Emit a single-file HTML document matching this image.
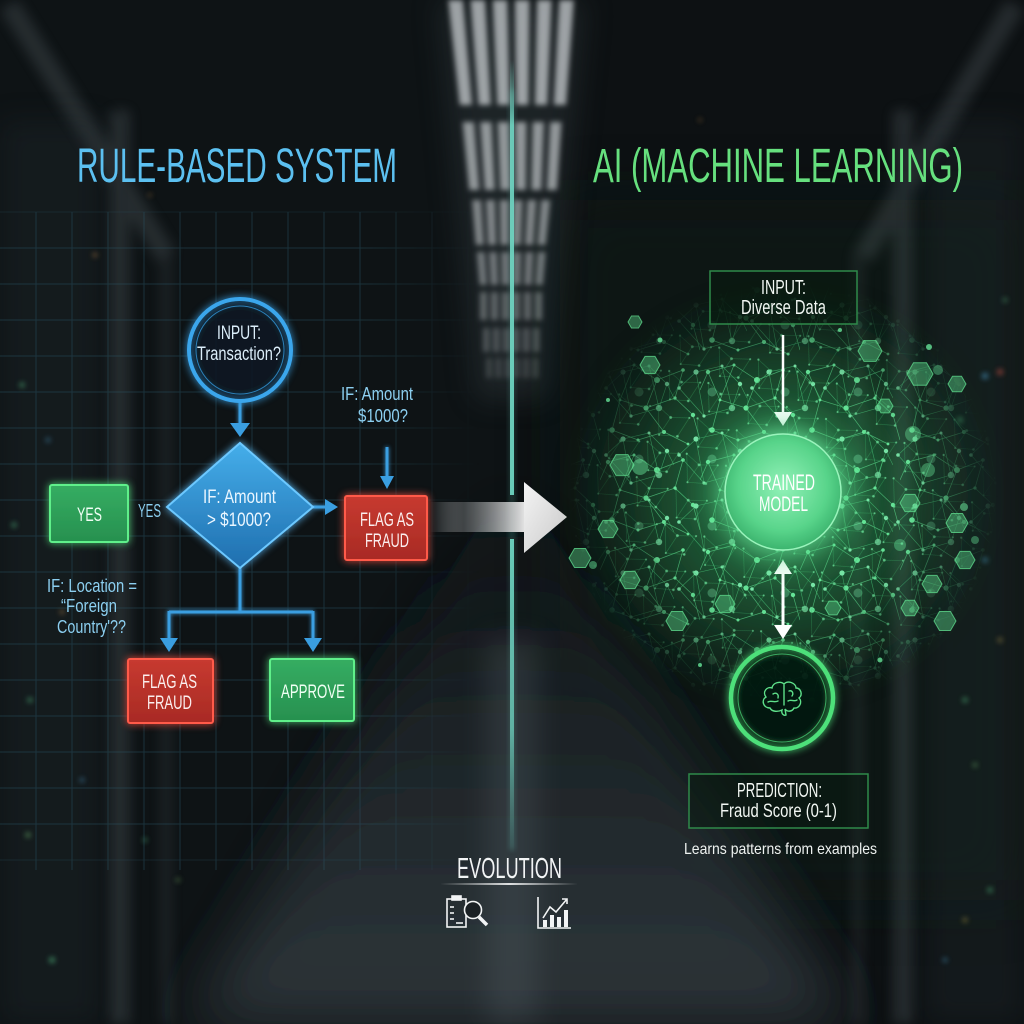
<!DOCTYPE html>
<html><head><meta charset="utf-8">
<style>
html,body{margin:0;padding:0;background:#0d1012;width:1024px;height:1024px;overflow:hidden}
svg{display:block}
text{font-family:"Liberation Sans Narrow","Liberation Sans",sans-serif;}
</style></head><body>
<svg width="1024" height="1024" viewBox="0 0 1024 1024" xmlns="http://www.w3.org/2000/svg">
<defs>
 <filter id="b1" x="-50%" y="-50%" width="200%" height="200%"><feGaussianBlur stdDeviation="1.2"/></filter>
 <filter id="b2" x="-50%" y="-50%" width="200%" height="200%"><feGaussianBlur stdDeviation="2.6"/></filter>
 <filter id="b6" x="-50%" y="-50%" width="200%" height="200%"><feGaussianBlur stdDeviation="6"/></filter>
 <filter id="b14" x="-50%" y="-50%" width="200%" height="200%"><feGaussianBlur stdDeviation="14"/></filter>
 <filter id="b30" x="-50%" y="-50%" width="200%" height="200%"><feGaussianBlur stdDeviation="30"/></filter>
 <filter id="glow" x="-40%" y="-40%" width="180%" height="180%"><feGaussianBlur in="SourceGraphic" stdDeviation="4" result="b"/><feMerge><feMergeNode in="b"/><feMergeNode in="SourceGraphic"/></feMerge></filter>
 <filter id="glowS" x="-40%" y="-40%" width="180%" height="180%"><feGaussianBlur in="SourceGraphic" stdDeviation="2" result="b"/><feMerge><feMergeNode in="b"/><feMergeNode in="SourceGraphic"/></feMerge></filter>
 <filter id="glowL" x="-60%" y="-60%" width="220%" height="220%"><feGaussianBlur in="SourceGraphic" stdDeviation="9" result="b"/><feMerge><feMergeNode in="b"/><feMergeNode in="SourceGraphic"/></feMerge></filter>

 <linearGradient id="floorG" x1="0" y1="0" x2="0" y2="1">
  <stop offset="0" stop-color="#13181b" stop-opacity="0"/><stop offset="0.45" stop-color="#1b2225"/><stop offset="1" stop-color="#2e363b"/>
 </linearGradient>
 <linearGradient id="diaG" x1="0" y1="0" x2="0" y2="1">
  <stop offset="0" stop-color="#45aeea"/><stop offset="1" stop-color="#1f6eae"/>
 </linearGradient>
 <linearGradient id="redG" x1="0" y1="0" x2="0" y2="1">
  <stop offset="0" stop-color="#c73a30"/><stop offset="1" stop-color="#a82a24"/>
 </linearGradient>
 <linearGradient id="grnG" x1="0" y1="0" x2="0" y2="1">
  <stop offset="0" stop-color="#35ad62"/><stop offset="1" stop-color="#27904f"/>
 </linearGradient>
 <linearGradient id="arrG" x1="430" y1="0" x2="526" y2="0" gradientUnits="userSpaceOnUse">
  <stop offset="0" stop-color="#ffffff" stop-opacity="0"/>
  <stop offset="0.35" stop-color="#6a6e70" stop-opacity="0.55"/>
  <stop offset="1" stop-color="#e8e8e8"/>
 </linearGradient>
 <linearGradient id="headG" x1="0" y1="0" x2="1" y2="1">
  <stop offset="0" stop-color="#f4f4f4"/><stop offset="1" stop-color="#c9c9c9"/>
 </linearGradient>
 <linearGradient id="tealTop" x1="0" y1="0" x2="0" y2="1">
  <stop offset="0" stop-color="#72dcc8" stop-opacity="0"/>
  <stop offset="0.15" stop-color="#72dcc8" stop-opacity="0.85"/>
  <stop offset="1" stop-color="#72dcc8" stop-opacity="0.9"/>
 </linearGradient>
 <linearGradient id="tealBot" x1="0" y1="0" x2="0" y2="1">
  <stop offset="0" stop-color="#72dcc8" stop-opacity="0.9"/>
  <stop offset="0.6" stop-color="#72dcc8" stop-opacity="0.7"/>
  <stop offset="1" stop-color="#72dcc8" stop-opacity="0"/>
 </linearGradient>
 <linearGradient id="evoLine" x1="0" y1="0" x2="1" y2="0">
  <stop offset="0" stop-color="#ffffff" stop-opacity="0"/>
  <stop offset="0.5" stop-color="#ffffff" stop-opacity="0.85"/>
  <stop offset="1" stop-color="#ffffff" stop-opacity="0"/>
 </linearGradient>
 <radialGradient id="cloudG" cx="783" cy="495" r="215" gradientUnits="userSpaceOnUse">
  <stop offset="0" stop-color="#48c878" stop-opacity="0.6"/>
  <stop offset="0.55" stop-color="#2e9a55" stop-opacity="0.38"/>
  <stop offset="1" stop-color="#1e6a3a" stop-opacity="0"/>
 </radialGradient>
 <radialGradient id="cloudM" cx="783" cy="495" r="215" gradientUnits="userSpaceOnUse">
  <stop offset="0" stop-color="#fff"/>
  <stop offset="0.6" stop-color="#fff" stop-opacity="0.9"/>
  <stop offset="1" stop-color="#fff" stop-opacity="0"/>
 </radialGradient>
 <mask id="cloudMask" maskUnits="userSpaceOnUse" x="0" y="0" width="1024" height="1024">
  <rect x="0" y="0" width="1024" height="1024" fill="url(#cloudM)"/>
 </mask>
 <radialGradient id="modelG" cx="0.5" cy="0.45" r="0.55">
  <stop offset="0" stop-color="#92f2b8"/><stop offset="0.7" stop-color="#58d48a"/><stop offset="1" stop-color="#3cb46e"/>
 </radialGradient>
 <linearGradient id="gridFadeX" x1="0" y1="0" x2="1" y2="0">
  <stop offset="0" stop-color="#fff"/><stop offset="0.75" stop-color="#fff"/><stop offset="1" stop-color="#fff" stop-opacity="0"/>
 </linearGradient>
 <mask id="gridMask" maskUnits="userSpaceOnUse" x="0" y="0" width="1024" height="1024">
  <rect x="0" y="200" width="480" height="690" fill="url(#gridFadeX)"/>
 </mask>

 <pattern id="netA" width="100" height="90" patternUnits="userSpaceOnUse">
  <g stroke="#5ad88a" stroke-width="0.7" fill="none" opacity="0.75">
   <polyline points="8,12 34,5 57,20 83,10"/>
   <polyline points="57,20 46,48 20,40 8,12"/>
   <polyline points="46,48 75,38 93,55"/>
   <polyline points="46,48 64,72 38,80 12,70 20,40"/>
   <line x1="64" y1="72" x2="88" y2="84"/>
   <line x1="75" y1="38" x2="83" y2="10"/>
   <line x1="93" y1="55" x2="100" y2="80"/>
   <line x1="0" y1="30" x2="8" y2="12"/>
   <line x1="34" y1="5" x2="20" y2="40"/>
  </g>
  <g fill="#6cf0a0">
   <circle cx="8" cy="12" r="2.2"/><circle cx="34" cy="5" r="1.5"/><circle cx="57" cy="20" r="3"/>
   <circle cx="83" cy="10" r="1.8"/><circle cx="20" cy="40" r="1.4"/><circle cx="46" cy="48" r="2.6"/>
   <circle cx="75" cy="38" r="1.6"/><circle cx="93" cy="55" r="2.2"/><circle cx="12" cy="70" r="2.8"/>
   <circle cx="38" cy="80" r="1.5"/><circle cx="64" cy="72" r="2"/><circle cx="88" cy="84" r="1.4"/>
  </g>
 </pattern>
 <pattern id="netB" width="73" height="67" patternUnits="userSpaceOnUse" patternTransform="translate(17,23)">
  <g stroke="#4ac87a" stroke-width="0.6" fill="none" opacity="0.7">
   <polyline points="5,30 22,14 48,8 66,26 58,50 30,58 5,30"/>
   <line x1="22" y1="14" x2="30" y2="58"/>
   <line x1="48" y1="8" x2="58" y2="50"/>
   <line x1="66" y1="26" x2="73" y2="40"/>
  </g>
  <g fill="#80f0b0">
   <circle cx="5" cy="30" r="1.8"/><circle cx="22" cy="14" r="2.6"/><circle cx="48" cy="8" r="1.5"/>
   <circle cx="66" cy="26" r="2.2"/><circle cx="58" cy="50" r="3.2" opacity="0.7"/><circle cx="30" cy="58" r="1.6"/>
   <circle cx="38" cy="34" r="4.5" opacity="0.35"/>
  </g>
 </pattern>
 <pattern id="netC" width="41" height="37" patternUnits="userSpaceOnUse" patternTransform="translate(5,9) rotate(17)">
  <g stroke="#3fb86c" stroke-width="0.5" fill="none" opacity="0.6">
   <polyline points="3,4 18,11 36,6 30,27 12,31 3,4"/>
   <line x1="18" y1="11" x2="12" y2="31"/>
  </g>
  <g fill="#70e8a0" opacity="0.8">
   <circle cx="3" cy="4" r="1.1"/><circle cx="18" cy="11" r="1.4"/><circle cx="36" cy="6" r="1"/>
   <circle cx="30" cy="27" r="1.3"/><circle cx="12" cy="31" r="1"/>
  </g>
 </pattern>
 <polygon id="hex" points="1,0 0.5,0.866 -0.5,0.866 -1,0 -0.5,-0.866 0.5,-0.866"/>
</defs>

<!-- ===== BACKGROUND ===== -->
<rect x="0" y="0" width="1024" height="1024" fill="#0d1113"/>
<rect x="0" y="0" width="512" height="1024" fill="#0f1518" opacity="0.6"/>
<rect x="560" y="200" width="464" height="700" fill="#0c1a12" opacity="0.5" filter="url(#b30)"/>
<!-- floor -->
<polygon points="512,470 850,1024 190,1024" fill="url(#floorG)" filter="url(#b30)"/>
<rect x="486" y="640" width="52" height="384" fill="#58636a" opacity="0.3" filter="url(#b14)"/>
<!-- side structure -->
<g opacity="0.22" filter="url(#b6)" fill="#7a868c">
 <polygon points="0,10 18,0 175,250 158,262"/>
 <rect x="110" y="110" width="20" height="914"/>
 <rect x="160" y="250" width="12" height="774" opacity="0.6"/>
 <polygon points="1024,10 1006,0 855,250 872,262"/>
 <rect x="893" y="110" width="20" height="914"/>
 <rect x="852" y="250" width="12" height="774" opacity="0.6"/>
</g>
<g opacity="0.25" filter="url(#b14)" fill="#2c363a">
 <rect x="0" y="120" width="100" height="904"/>
 <rect x="924" y="120" width="100" height="904"/>
</g>
<!-- LEDs -->
<g filter="url(#b2)" opacity="0.7">
 <circle cx="22" cy="385" r="2.5" fill="#4fb07a"/><circle cx="48" cy="440" r="2" fill="#4a9ac8"/>
 <circle cx="14" cy="525" r="2.5" fill="#4fb07a"/><circle cx="62" cy="612" r="2" fill="#c0884a"/>
 <circle cx="30" cy="700" r="2.5" fill="#4fb07a"/><circle cx="82" cy="780" r="2" fill="#4a9ac8"/>
 <circle cx="28" cy="835" r="2.5" fill="#6ab06a"/><circle cx="52" cy="960" r="3" fill="#4fb07a"/>
 <circle cx="145" cy="840" r="2" fill="#4fb07a"/><circle cx="178" cy="880" r="2" fill="#6a9a5a"/>
 <circle cx="95" cy="255" r="2" fill="#c0884a"/><circle cx="150" cy="195" r="1.5" fill="#c0884a"/>
 <circle cx="960" cy="420" r="2.5" fill="#4fb07a"/><circle cx="985" cy="560" r="2.5" fill="#4a9ac8"/>
 <circle cx="1000" cy="640" r="2" fill="#c0a84a"/><circle cx="965" cy="700" r="2.5" fill="#4fb07a"/>
 <circle cx="975" cy="765" r="2" fill="#6ab06a"/><circle cx="990" cy="890" r="2.5" fill="#4fb07a"/>
 <circle cx="945" cy="960" r="2" fill="#4a9ac8"/><circle cx="1005" cy="300" r="2" fill="#4fb07a"/>
 <circle cx="1000" cy="372" r="3" fill="#c05040"/><circle cx="985" cy="376" r="3" fill="#4a9ac8"/>
 <circle cx="965" cy="920" r="2" fill="#c0a84a"/><circle cx="700" cy="120" r="1.5" fill="#c0884a"/>
</g>

<!-- ceiling lights -->
<polygon points="438,0 586,0 548,400 476,400" fill="#3a4448" opacity="0.35" filter="url(#b14)"/>
<g fill="#b4b9bc" filter="url(#b2)">
 <g opacity="0.85">
  <polygon points="448.3,0 462.8,0 472,105 459.8,105"/>
  <polygon points="470.5,0 485,0 490.8,105 478.6,105"/>
  <polygon points="492.7,0 507.2,0 509.6,105 497.4,105"/>
  <polygon points="514.9,0 529.4,0 528.4,105 516.2,105"/>
  <polygon points="537.1,0 551.6,0 547.2,105 535,105"/>
  <polygon points="559.3,0 573.8,0 566,105 553.8,105"/>
 </g>
 <g opacity="0.78">
  <polygon points="462.6,122 474,122 479.4,190 469.3,190"/>
  <polygon points="480.1,122 491.5,122 494.9,190 484.8,190"/>
  <polygon points="497.6,122 509,122 510.4,190 500.3,190"/>
  <polygon points="515.1,122 526.5,122 525.9,190 515.8,190"/>
  <polygon points="532.6,122 544,122 541.4,190 531.3,190"/>
  <polygon points="550.1,122 561.5,122 556.9,190 546.8,190"/>
 </g>
 <g opacity="0.68">
  <polygon points="472.1,200 481.1,200 483.9,245 475.8,245"/>
  <polygon points="485.9,200 494.9,200 496.2,245 488.2,245"/>
  <polygon points="499.7,200 508.7,200 508.5,245 500.5,245"/>
  <polygon points="513.6,200 522.6,200 520.8,245 512.8,245"/>
  <polygon points="527.4,200 536.4,200 533.2,245 525.1,245"/>
  <polygon points="541.2,200 550.2,200 545.5,245 537.5,245"/>
 </g>
 <g opacity="0.58">
  <polygon points="476.8,252 484.7,252 486.9,285 479.7,285"/>
  <polygon points="489,252 496.9,252 498.1,285 490.8,285"/>
  <polygon points="501.2,252 509.1,252 509.3,285 502,285"/>
  <polygon points="513.3,252 521.2,252 520.4,285 513.2,285"/>
  <polygon points="525.5,252 533.4,252 531.6,285 524.3,285"/>
  <polygon points="537.7,252 545.6,252 542.7,285 535.5,285"/>
 </g>
 <g opacity="0.46">
  <rect x="480" y="292" width="7" height="28"/><rect x="491" y="292" width="7" height="28"/>
  <rect x="502" y="292" width="7" height="28"/><rect x="513" y="292" width="7" height="28"/>
  <rect x="524" y="292" width="7" height="28"/><rect x="535" y="292" width="7" height="28"/>
 </g>
 <g opacity="0.34">
  <rect x="483" y="328" width="6.5" height="24"/><rect x="493" y="328" width="6.5" height="24"/>
  <rect x="503" y="328" width="6.5" height="24"/><rect x="513" y="328" width="6.5" height="24"/>
  <rect x="523" y="328" width="6.5" height="24"/><rect x="533" y="328" width="6.5" height="24"/>
 </g>
 <g opacity="0.22">
  <rect x="486" y="358" width="6" height="20"/><rect x="495.3" y="358" width="6" height="20"/>
  <rect x="504.6" y="358" width="6" height="20"/><rect x="513.9" y="358" width="6" height="20"/>
  <rect x="523.2" y="358" width="6" height="20"/><rect x="532.5" y="358" width="6" height="20"/>
 </g>
</g>

<!-- grid -->
<g mask="url(#gridMask)" stroke="#2a5868" stroke-width="1" opacity="0.45">
 <g>
  <line x1="0" y1="212" x2="480" y2="212" opacity="0.5"/><line x1="0" y1="248" x2="480" y2="248"/>
  <line x1="0" y1="284" x2="480" y2="284"/><line x1="0" y1="320" x2="480" y2="320"/>
  <line x1="0" y1="356" x2="480" y2="356"/><line x1="0" y1="392" x2="480" y2="392"/>
  <line x1="0" y1="428" x2="480" y2="428"/><line x1="0" y1="464" x2="480" y2="464"/>
  <line x1="0" y1="500" x2="480" y2="500"/><line x1="0" y1="536" x2="480" y2="536"/>
  <line x1="0" y1="572" x2="480" y2="572"/><line x1="0" y1="608" x2="480" y2="608"/>
  <line x1="0" y1="644" x2="480" y2="644"/><line x1="0" y1="680" x2="480" y2="680"/>
  <line x1="0" y1="716" x2="480" y2="716"/><line x1="0" y1="752" x2="480" y2="752"/>
  <line x1="0" y1="788" x2="480" y2="788"/><line x1="0" y1="824" x2="480" y2="824"/>
  <line x1="0" y1="860" x2="480" y2="860" opacity="0.6"/>
 </g>
 <g>
  <line x1="36" y1="212" x2="36" y2="870"/><line x1="72" y1="212" x2="72" y2="870"/>
  <line x1="108" y1="212" x2="108" y2="870"/><line x1="144" y1="212" x2="144" y2="870"/>
  <line x1="180" y1="212" x2="180" y2="870"/><line x1="216" y1="212" x2="216" y2="870"/>
  <line x1="252" y1="212" x2="252" y2="870"/><line x1="288" y1="212" x2="288" y2="870"/>
  <line x1="324" y1="212" x2="324" y2="870"/><line x1="360" y1="212" x2="360" y2="870"/>
  <line x1="396" y1="212" x2="396" y2="870"/><line x1="432" y1="212" x2="432" y2="870"/>
  <line x1="468" y1="212" x2="468" y2="870"/>
 </g>
</g>

<!-- teal divider -->
<rect x="509" y="90" width="6" height="760" fill="#6fd8c8" opacity="0.2" filter="url(#b2)"/>
<rect x="510" y="60" width="4" height="435" fill="url(#tealTop)"/>
<rect x="510" y="539" width="4" height="315" fill="url(#tealBot)"/>

<!-- titles -->
<text x="77" y="182" font-size="48" fill="#5cc0f0" textLength="320" lengthAdjust="spacingAndGlyphs">RULE-BASED SYSTEM</text>
<text x="593" y="182" font-size="48" fill="#66e07e" textLength="370" lengthAdjust="spacingAndGlyphs">AI (MACHINE LEARNING)</text>

<!-- ===== LEFT FLOWCHART ===== -->
<g stroke="#3a9ee0" stroke-width="3" fill="none" filter="url(#glowS)">
 <line x1="240" y1="400" x2="240" y2="425"/>
 <line x1="313" y1="507" x2="326" y2="507"/>
 <line x1="387" y1="447" x2="387" y2="478"/>
 <line x1="240" y1="568" x2="240" y2="612"/>
 <line x1="169" y1="612" x2="313" y2="612"/>
 <line x1="169" y1="611" x2="169" y2="640"/>
 <line x1="313" y1="611" x2="313" y2="640"/>
</g>
<g fill="#3a9ee0">
 <polygon points="230,423 250,423 240,437"/>
 <polygon points="325,499 325,515 338,507"/>
 <polygon points="380,476 394,476 387,489"/>
 <polygon points="160,638 178,638 169,652"/>
 <polygon points="304,638 322,638 313,652"/>
</g>

<!-- input circle -->
<circle cx="240" cy="350" r="51" fill="#0c1a24" fill-opacity="0.7" stroke="#3aa6ec" stroke-width="4" filter="url(#glow)"/>
<circle cx="240" cy="350" r="44" fill="none" stroke="#2d80b8" stroke-width="1"/>
<text x="217" y="339" font-size="19" fill="#dceefa" textLength="44" lengthAdjust="spacingAndGlyphs">INPUT:</text>
<text x="197" y="360" font-size="19" fill="#dceefa" textLength="84" lengthAdjust="spacingAndGlyphs">Transaction?</text>

<!-- diamond -->
<polygon points="240,443 313,507 240,568 167,507" fill="url(#diaG)" stroke="#6cc8ff" stroke-width="2" filter="url(#glow)"/>
<text x="203" y="503" font-size="19" fill="#eaf6ff" textLength="73" lengthAdjust="spacingAndGlyphs">IF: Amount</text>
<text x="207" y="526" font-size="19" fill="#eaf6ff" textLength="64" lengthAdjust="spacingAndGlyphs">&gt; $1000?</text>

<!-- label above right red -->
<text x="341" y="400" font-size="18" fill="#8ccff0" textLength="72" lengthAdjust="spacingAndGlyphs">IF: Amount</text>
<text x="358" y="422" font-size="18" fill="#8ccff0" textLength="50" lengthAdjust="spacingAndGlyphs">$1000?</text>

<!-- right red box -->
<rect x="345" y="496" width="82" height="64" rx="2" fill="url(#redG)" stroke="#ff5a48" stroke-width="2" filter="url(#glow)"/>
<text x="360" y="526" font-size="19.5" fill="#fbeeee" textLength="54" lengthAdjust="spacingAndGlyphs">FLAG AS</text>
<text x="365" y="547" font-size="19.5" fill="#fbeeee" textLength="44" lengthAdjust="spacingAndGlyphs">FRAUD</text>

<!-- YES box -->
<rect x="50" y="485" width="78" height="57" rx="2" fill="url(#grnG)" stroke="#5ef08a" stroke-width="2" filter="url(#glow)"/>
<text x="77" y="521" font-size="19" fill="#f0fff4" textLength="25" lengthAdjust="spacingAndGlyphs">YES</text>
<text x="138" y="517" font-size="18" fill="#8ccff0" textLength="23" lengthAdjust="spacingAndGlyphs">YES</text>

<!-- location label -->
<text x="47" y="592" font-size="18" fill="#8ccff0" textLength="90" lengthAdjust="spacingAndGlyphs">IF: Location =</text>
<text x="61" y="612" font-size="18" fill="#8ccff0" textLength="56" lengthAdjust="spacingAndGlyphs">“Foreign</text>
<text x="57" y="633" font-size="18" fill="#8ccff0" textLength="69" lengthAdjust="spacingAndGlyphs">Country'??</text>

<!-- bottom red -->
<rect x="128" y="659" width="85" height="64" rx="2" fill="url(#redG)" stroke="#ff5a48" stroke-width="2" filter="url(#glow)"/>
<text x="142" y="688" font-size="19.5" fill="#fbeeee" textLength="55" lengthAdjust="spacingAndGlyphs">FLAG AS</text>
<text x="147" y="709" font-size="19.5" fill="#fbeeee" textLength="45" lengthAdjust="spacingAndGlyphs">FRAUD</text>

<!-- approve -->
<rect x="270" y="659" width="84" height="62" rx="2" fill="url(#grnG)" stroke="#5ef08a" stroke-width="2" filter="url(#glow)"/>
<text x="281" y="698" font-size="19.5" fill="#f0fff4" textLength="64" lengthAdjust="spacingAndGlyphs">APPROVE</text>

<!-- ===== CENTER ARROW ===== -->
<rect x="430" y="502" width="96" height="30" fill="url(#arrG)"/>
<polygon points="524,482 567,517 524,553" fill="url(#headG)"/>

<!-- ===== RIGHT NETWORK ===== -->
<ellipse cx="783" cy="495" rx="215" ry="200" fill="url(#cloudG)" filter="url(#b14)"/>
<g mask="url(#cloudMask)">
 <rect x="560" y="280" width="440" height="430" fill="url(#netA)"/>
 <rect x="560" y="280" width="440" height="430" fill="url(#netB)"/>
 <rect x="560" y="280" width="440" height="430" fill="url(#netC)"/>
</g>
<g fill="#5ed88c" fill-opacity="0.42" stroke="#62e090" stroke-opacity="0.75">
 <use href="#hex" transform="translate(635,322) scale(7)" stroke-width="0.14"/>
 <use href="#hex" transform="translate(650,365) scale(10)" stroke-width="0.1"/>
 <use href="#hex" transform="translate(870,351) scale(12)" stroke-width="0.083"/>
 <use href="#hex" transform="translate(920,374) scale(13)" stroke-width="0.077"/>
 <use href="#hex" transform="translate(957,384) scale(9)" stroke-width="0.11"/>
 <use href="#hex" transform="translate(885,406) scale(8)" stroke-width="0.125"/>
 <use href="#hex" transform="translate(622,465) scale(12)" stroke-width="0.083"/>
 <use href="#hex" transform="translate(910,503) scale(10)" stroke-width="0.1"/>
 <use href="#hex" transform="translate(957,523) scale(11)" stroke-width="0.09"/>
 <use href="#hex" transform="translate(580,558) scale(11)" stroke-width="0.09"/>
 <use href="#hex" transform="translate(608,529) scale(10)" stroke-width="0.1"/>
 <use href="#hex" transform="translate(725,604) scale(10)" stroke-width="0.1"/>
 <use href="#hex" transform="translate(677,621) scale(11)" stroke-width="0.09"/>
 <use href="#hex" transform="translate(910,608) scale(9)" stroke-width="0.11"/>
 <use href="#hex" transform="translate(945,621) scale(11)" stroke-width="0.09"/>
 <use href="#hex" transform="translate(932,584) scale(10)" stroke-width="0.1"/>
 <use href="#hex" transform="translate(630,580) scale(10)" stroke-width="0.1"/>
 <use href="#hex" transform="translate(833,608) scale(8)" stroke-width="0.125"/>
 <use href="#hex" transform="translate(965,560) scale(10)" stroke-width="0.1"/>
</g>
<g fill="#6cf0a0" opacity="0.75">
 <circle cx="640" cy="467" r="8" opacity="0.6"/><circle cx="929" cy="347" r="3"/>
 <circle cx="938" cy="370" r="5" opacity="0.5"/><circle cx="964" cy="507" r="4" opacity="0.7"/>
 <circle cx="913" cy="434" r="8" opacity="0.5"/><circle cx="608" cy="400" r="2"/>
 <circle cx="593" cy="565" r="4" opacity="0.6"/><circle cx="975" cy="540" r="4" opacity="0.5"/>
 <circle cx="660" cy="340" r="2.5"/><circle cx="840" cy="330" r="2"/>
 <circle cx="880" cy="660" r="2.5"/><circle cx="700" cy="665" r="2"/>
 <circle cx="928" cy="470" r="7" opacity="0.5"/><circle cx="900" cy="545" r="6" opacity="0.5"/>
</g>

<!-- right input box -->
<rect x="710" y="271" width="147" height="53" fill="#081a0f" fill-opacity="0.6" stroke="#2f8a4a" stroke-width="1.5"/>
<text x="761" y="294" font-size="20" fill="#f2f7f3" textLength="45" lengthAdjust="spacingAndGlyphs">INPUT:</text>
<text x="741" y="314" font-size="20" fill="#f2f7f3" textLength="85" lengthAdjust="spacingAndGlyphs">Diverse Data</text>

<!-- arrows -->
<line x1="783" y1="335" x2="783" y2="414" stroke="#ffffff" stroke-width="2.5"/>
<polygon points="774,412 792,412 783,426" fill="#ffffff"/>
<line x1="783" y1="572" x2="783" y2="627" stroke="#ffffff" stroke-width="3"/>
<polygon points="774,574 792,574 783,560" fill="#ffffff"/>
<polygon points="774,625 792,625 783,639" fill="#ffffff"/>

<!-- trained model -->
<circle cx="783" cy="492" r="74" fill="#4ad882" opacity="0.4" filter="url(#b14)"/>
<circle cx="783" cy="492" r="58" fill="url(#modelG)" stroke="#9af4bc" stroke-width="1.5" filter="url(#glowL)"/>
<text x="753" y="490" font-size="22" fill="#ffffff" textLength="62" lengthAdjust="spacingAndGlyphs">TRAINED</text>
<text x="759" y="511" font-size="21.5" fill="#ffffff" textLength="49" lengthAdjust="spacingAndGlyphs">MODEL</text>

<!-- brain circle -->
<circle cx="782" cy="698" r="51" fill="#0a1a10" fill-opacity="0.6" stroke="#4ee07a" stroke-width="4.5" filter="url(#glow)"/>
<circle cx="782" cy="698" r="44" fill="none" stroke="#3aa860" stroke-width="1"/>
<g fill="none" stroke="#5ee08a" stroke-width="1.4" stroke-linecap="round">
 <path d="M770,708 C763,708 761,700 766,697 C762,692 767,686 772,688 C773,682 781,681 784,684 C788,680 796,683 796,688 C801,688 803,695 799,698 C803,702 799,709 794,708 C792,712 787,712 785,709 L786,715 C784,716 781,714 782,710 C778,712 772,712 770,708 Z"/>
 <path d="M784,685 L784,705"/>
 <path d="M773,694 C776,692 779,694 778,698 M768,702 C771,700 774,703 778,701"/>
 <path d="M789,691 C792,690 794,693 792,696 M788,701 C791,699 795,702 797,700"/>
</g>

<!-- prediction -->
<rect x="689" y="774" width="179" height="54" fill="#081a0f" fill-opacity="0.5" stroke="#2f8a4a" stroke-width="1.5"/>
<text x="737" y="797" font-size="20.5" fill="#f2f7f3" textLength="85" lengthAdjust="spacingAndGlyphs">PREDICTION:</text>
<text x="720" y="817" font-size="19" fill="#f2f7f3" textLength="117" lengthAdjust="spacingAndGlyphs">Fraud Score (0-1)</text>
<text x="684" y="854" font-size="16" fill="#eef2f0" textLength="193" lengthAdjust="spacingAndGlyphs">Learns patterns from examples</text>

<!-- ===== EVOLUTION ===== -->
<text x="457" y="878" font-size="29" fill="#f2f4f5" textLength="105" lengthAdjust="spacingAndGlyphs">EVOLUTION</text>
<rect x="440" y="883" width="138" height="2" fill="url(#evoLine)"/>
<g fill="none" stroke="#f2f4f5" stroke-width="1.6">
 <rect x="447" y="899" width="19" height="28"/>
 <rect x="452" y="896" width="9" height="4" fill="#f2f4f5"/>
 <line x1="450" y1="907" x2="454" y2="907"/><line x1="450" y1="913" x2="454" y2="913"/>
 <line x1="450" y1="919" x2="454" y2="919"/><line x1="456" y1="923" x2="463" y2="923"/>
 <circle cx="473" cy="910" r="8.5" fill="#1a2024"/>
 <line x1="479" y1="917" x2="487" y2="925" stroke-width="3.5"/>
 <polyline points="538,897 538,928 571,928"/>
 <polyline points="543,918 550,907 556,912 567,899"/>
 <polyline points="562,899 567,899 567,904"/>
</g>
<g fill="#f2f4f5">
 <rect x="543" y="920" width="4" height="7"/><rect x="550" y="915" width="4" height="12"/>
 <rect x="557" y="917" width="4" height="10"/><rect x="564" y="910" width="4" height="17"/>
</g>
</svg>
</body></html>
